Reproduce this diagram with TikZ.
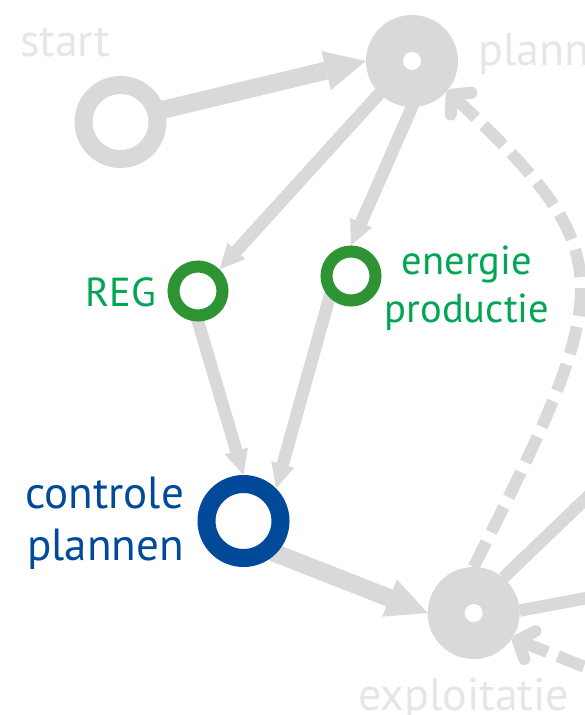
\documentclass[tikz,border=0pt]{standalone}
\usepackage{fontspec}
\setmainfont{PT Sans}
\usetikzlibrary{arrows.meta,backgrounds}
\definecolor{lgray}{HTML}{D9D9D9}
\definecolor{tgray}{HTML}{E6E6E6}
\definecolor{ringgreen}{HTML}{2E9332}
\definecolor{txtgreen}{HTML}{00A651}
\definecolor{myblue}{HTML}{004A99}
\begin{document}
\begin{tikzpicture}[x=1pt,y=-1pt,
  bigring/.style={circle, line width=18pt, minimum size=74pt, inner sep=0pt},
  smallring/.style={circle, draw=ringgreen, line width=12pt, minimum size=49pt, inner sep=0pt},
  hub/.style={circle, fill=lgray, minimum size=92pt, inner sep=0pt, outer sep=0pt},
  hubdot/.style={circle, fill=white, minimum size=18pt, inner sep=0pt},
  graytxt/.style={text=tgray, inner sep=0pt, font=\fontsize{46}{46}\selectfont},
  greentxt/.style={text=txtgreen, inner sep=0pt, font=\fontsize{40.5}{40.5}\selectfont},
  bluetxt/.style={text=myblue, inner sep=0pt, font=\fontsize{45}{45}\selectfont},
  thickedge/.style={draw=lgray, line width=18pt, -{Triangle[length=41pt,width=40pt,line width=0pt]}},
  thinedge/.style={draw=lgray, line width=12.5pt, -{Triangle[length=25pt,width=24pt,line width=0pt]}},
  dashedge/.style={draw=lgray, line width=12pt, dash pattern=on 28pt off 11pt, -{Straight Barb[length=13pt,width=30pt,round]}},
  plainedge/.style={draw=lgray, line width=12.5pt}
]
\useasboundingbox (0,0) rectangle (585,715);
\clip (0,0) rectangle (585,715);

% nodes
\node[bigring, draw=lgray] (start) at (120.5,122) {};
\node[hub] (plan) at (412,61) {};
\node[hubdot] (plandot) at (412,61) {};
\node[smallring] (reg) at (198,291) {};
\node[smallring] (ener) at (351,276) {};
\node[bigring, draw=myblue] (ctrl) at (243.5,521) {};
\node[hub] (expl) at (473.7,613) {};
\node[hubdot] (expldot) at (473.7,613) {};

% outside end points
\coordinate (outA) at (600,485);
\coordinate (outB) at (600,595.5);
\coordinate (outC) at (620,681);

% texts
\node[graytxt, anchor=base west] (tstart) at (20,56) {start};
\node[graytxt, anchor=base west] (tplan) at (478,65) {plann};
\node[graytxt, anchor=base west] (texpl) at (358,710) {exploitatie};
\node[greentxt, anchor=base east] (treg) at (156,306) {REG};
\node[greentxt, anchor=base] (tener) at (467,274) {energie};
\node[greentxt, anchor=base] (tprod) at (467,322) {productie};
\node[bluetxt, anchor=base west] (tctrl) at (25,508) {controle};
\node[bluetxt, anchor=base west] (tplan2) at (27,560) {plannen};

% connectors
\begin{scope}[on background layer]
\draw[thickedge, shorten <=-4pt] (start.16) -- (plan.west);
\draw[thinedge, shorten <=-3pt] (plan.225) -- (reg.45);
\draw[thinedge, shorten <=-3pt] (plan.south) -- (ener.north);
\draw[thinedge, shorten <=-3pt] (reg.south) -- (ctrl.north);
\draw[thinedge, shorten <=-3pt] (ener.225) -- (ctrl.45);
\draw[thickedge, shorten <=-4pt] (ctrl.-45) -- (expl.west);
\draw[dashedge] (expl.north) .. controls (618,282) and (621,255) .. (plan.-40);
\draw[dashedge] (outC) -- (expl.-33);
\draw[plainedge] (expl.50) -- (outA);
\draw[plainedge] (expl.3) -- (outB);
\end{scope}
\end{tikzpicture}
\end{document}
